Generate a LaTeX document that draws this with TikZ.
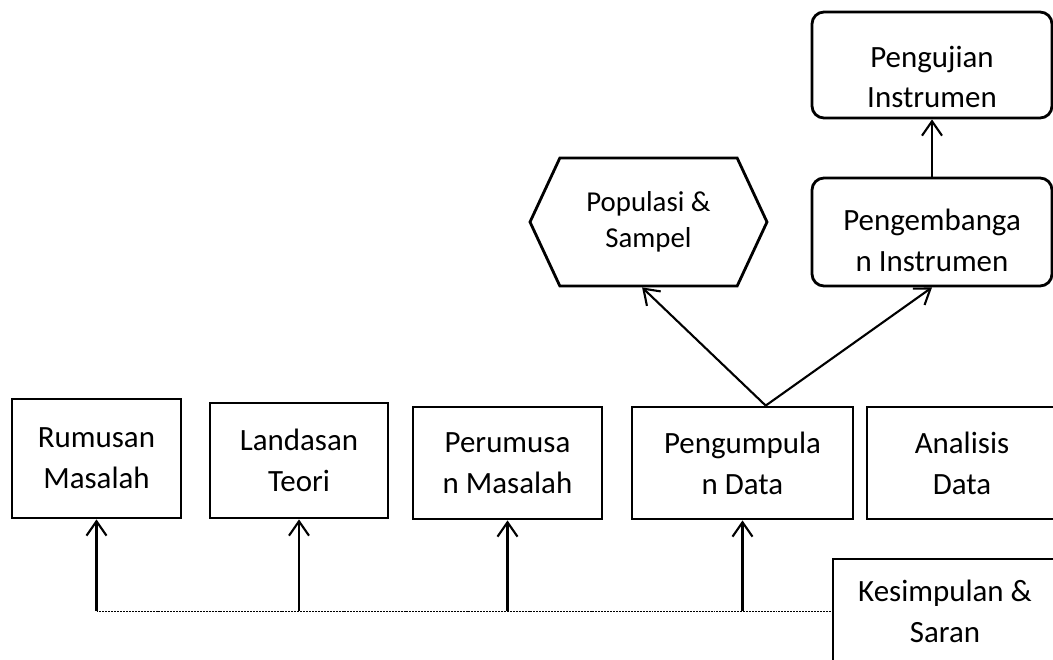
\documentclass[tikz,border=0pt]{standalone}
\usepackage{fontspec}
\setmainfont{Carlito}
\usepackage{tikz}
\usetikzlibrary{shapes.symbols, positioning, arrows.meta}

\begin{document}
\begin{tikzpicture}[
    box/.style={draw, line width=2pt, align=center, inner sep=0pt,
                font=\fontsize{22pt}{29pt}\selectfont},
    rbox/.style={box, rounded corners=0.3cm},
    hexa/.style={draw, line width=2pt, align=center, inner sep=0pt, signal,
                 signal to=east and west, signal pointer angle=130,
                 font=\fontsize{20.5pt}{25.5pt}\selectfont},
    arr/.style={line width=1.5pt, -{Straight Barb[length=0.36cm, width=0.5cm]}},
    base/.style={line width=0.5pt, dash pattern=on 1.4pt off 0.7pt}
  ]
  \useasboundingbox (0,0) rectangle (26.325,-16.475);
  \clip (0,0) rectangle (26.325,-16.475);

  % baris bawah
  \node[box, minimum width=4.225cm, minimum height=2.975cm] (rumusan) at (2.4125, -11.4625) {Rumusan\\Masalah};
  \node[box, minimum width=4.45cm, minimum height=2.875cm] (landasan) at (7.475, -11.5125) {Landasan\\Teori};
  \node[box, minimum width=4.725cm, minimum height=2.8cm] (perumusan) at (12.6875, -11.575) {Perumusa\\n Masalah};
  \node[box, minimum width=5.525cm, minimum height=2.8cm] (kumpul) at (18.5625, -11.575) {Pengumpula\\n Data};
  \node[box, minimum width=4.75cm, minimum height=2.8cm] (analisis) at (24.05, -11.575) {Analisis\\Data};
  \node[box, minimum width=5.6cm, minimum height=2.6cm] (simpulan) at (23.625, -15.275) {Kesimpulan \&\\Saran};

  % cabang atas
  \node[hexa, minimum width=5.925cm, minimum height=3.2cm] (populasi) at (16.2125, -5.55) {Populasi \&\\Sampel};
  \node[rbox, minimum width=6.0cm, minimum height=2.7cm, text height=1.96cm] (kembang) at (23.3, -5.8) {Pengembanga\\n Instrumen};
  \node[rbox, minimum width=6.0cm, minimum height=2.65cm, text height=2.15cm] (uji) at (23.3, -1.625) {Pengujian\\Instrumen};

  % panah
  \draw[base] (rumusan.south |- simpulan.west) -- (simpulan.west);
  \foreach \n in {rumusan, landasan, perumusan, kumpul} {
    \draw[arr] (\n.south |- simpulan.west) -- (\n.south);
  }
  \draw[arr] ([xshift=0.58cm]kumpul.north) -- ([xshift=-0.16cm]populasi.south);
  \draw[arr] ([xshift=0.58cm]kumpul.north) -- (kembang.south);
  \draw[arr] (kembang) -- (uji);
\end{tikzpicture}
\end{document}
